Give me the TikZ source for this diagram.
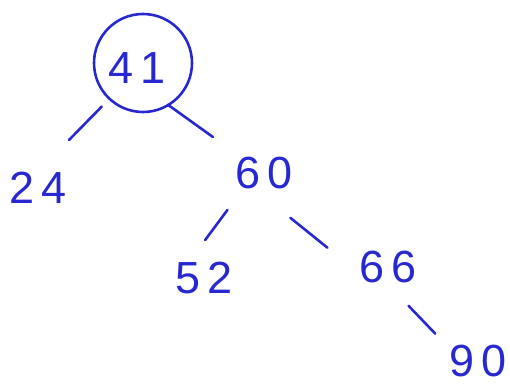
\documentclass[tikz,border=0pt]{standalone}
\usepackage{fontspec}
\usepackage{tikz}
\usetikzlibrary{calc}
\newfontfamily\handfont[LetterSpace=16]{Liberation Sans}
\definecolor{inkblue}{RGB}{40,40,210}

\begin{document}
\begin{tikzpicture}[x=1pt, y=-1pt,
    num/.style={font=\handfont\fontsize{45}{45}\selectfont, text=inkblue, inner sep=0pt},
    edge/.style={draw=inkblue, line width=2.6pt, line cap=round}]
    \useasboundingbox (0,0) rectangle (510,385);
    % root in its ring
    \node[draw=inkblue, line width=2.6pt, circle, minimum size=98pt] (root) at (143,63) {};
    \node[num] (n41) at (137,68) {41};
    \node[num] (n24) at (38,188) {24};
    \node[num] (n60) at (264,173) {60};
    \node[num] (n52) at (204,278) {52};
    \node[num] (n66) at (388,267) {66};
    \node[num] (n90) at (478,361) {90};
    % branches
    \draw[edge] ($(root)!0.365!(n24)+(-3,-2)$) -- ($(root)!0.648!(n24)+(-6,-4)$);
    \draw[edge] ($(root)!0.289!(n60)+(-10,10)$) -- ($(root)!0.627!(n60)+(-6,5)$);
    \draw[edge] ($(n60)!0.409!(n52)+(-12,-6)$) -- ($(n60)!0.715!(n52)+(-16,-8)$);
    \draw[edge] ($(n60)!0.318!(n66)+(-13,15)$) -- ($(n60)!0.624!(n66)+(-14,16)$);
    \draw[edge] ($(n66)!0.317!(n90)+(-8,9)$) -- ($(n66)!0.603!(n90)+(-7,10)$);
\end{tikzpicture}
\end{document}
